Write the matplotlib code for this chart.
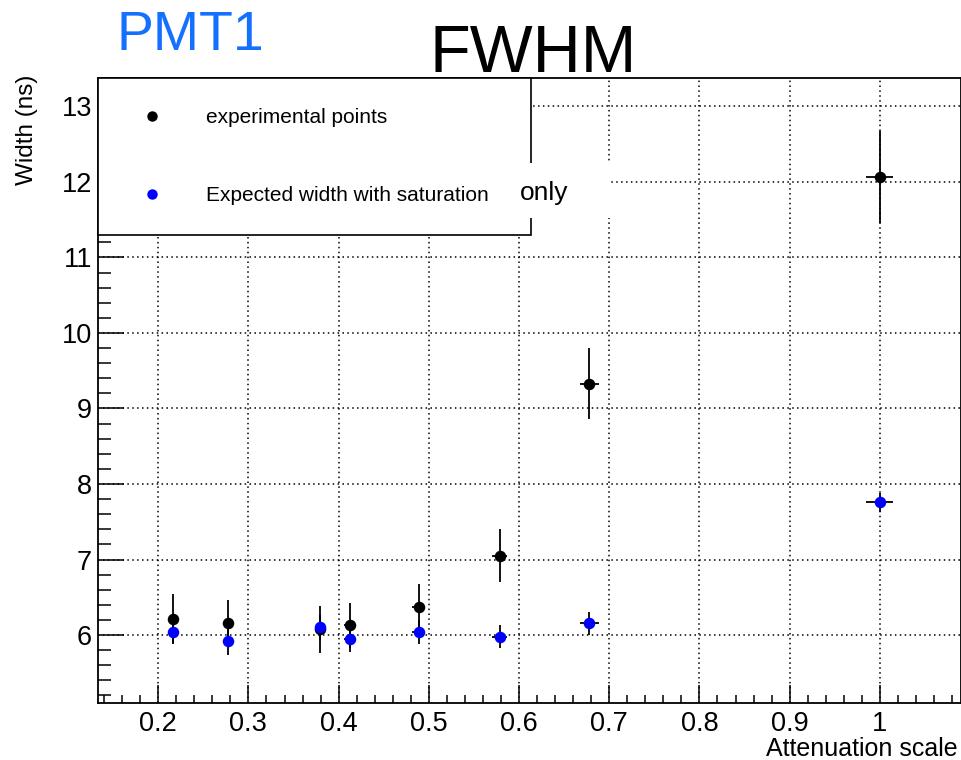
import matplotlib
matplotlib.use("Agg")
import matplotlib.pyplot as plt
from matplotlib.lines import Line2D
from matplotlib.patches import Rectangle
from matplotlib.ticker import MultipleLocator, FormatStrFormatter

plt.rcParams["font.family"] = ["Liberation Sans", "DejaVu Sans"]

# attenuation scale of each measurement
atten = [0.216, 0.2775, 0.379, 0.4123, 0.4887, 0.5785, 0.678, 1.0]
atten_err = [0.0032, 0.0042, 0.0057, 0.0062, 0.0073, 0.0087, 0.0102, 0.015]

# measured FWHM (ns)
width_exp = [6.21, 6.155, 6.075, 6.13, 6.37, 7.05, 9.33, 12.07]
width_exp_err = [0.33, 0.305, 0.31, 0.30, 0.30, 0.35, 0.465, 0.61]

# expected FWHM with saturation (ns)
width_sat = [6.04, 5.92, 6.10, 5.95, 6.04, 5.98, 6.155, 7.76]
width_sat_err = [0.15, 0.18, 0.17, 0.17, 0.155, 0.155, 0.155, 0.125]

W, H = 962, 760
fig = plt.figure(figsize=(W / 100, H / 100), dpi=100)
ax = fig.add_axes([97.7 / W, 1 - 703 / H, (961 - 97.7) / W, (703 - 77.7) / H])

ebar = dict(fmt="o", ms=8.3, ecolor="black", elinewidth=1.3, capsize=4,
            capthick=1.3, mew=0)
ax.errorbar(atten, width_exp, yerr=width_exp_err, xerr=atten_err,
            color="black", zorder=3, **ebar)
ax.errorbar(atten, width_sat, yerr=width_sat_err, xerr=atten_err,
            color="#0000ff", zorder=4, **ebar)

ax.set_xlim(0.1329, 1.09)
ax.set_ylim(5.10, 13.38)
ax.xaxis.set_major_locator(MultipleLocator(0.1))
ax.xaxis.set_minor_locator(MultipleLocator(0.02))
ax.yaxis.set_major_locator(MultipleLocator(1))
ax.yaxis.set_minor_locator(MultipleLocator(0.2))
ax.xaxis.set_major_formatter(FormatStrFormatter("%g"))
ax.yaxis.set_major_formatter(FormatStrFormatter("%g"))

ax.tick_params(which="both", direction="in", top=False, right=False,
               labelsize=19.5, width=1.1)
ax.tick_params(axis="x", which="major", length=13, pad=6)
ax.tick_params(axis="x", which="minor", length=6)
ax.tick_params(axis="y", which="major", length=19, pad=4)
ax.tick_params(axis="y", which="minor", length=9)
for sp in ax.spines.values():
    sp.set_linewidth(1.3)

ax.grid(True, which="major", color="black", lw=1.1, ls=(0, (1, 2.2)))
ax.set_axisbelow(True)

handles = [
    Line2D([], [], ls="none", marker="o", ms=7.5, mew=0, color="black"),
    Line2D([], [], ls="none", marker="o", ms=7.5, mew=0, color="#0000ff"),
]
leg = ax.legend(handles, ["experimental points", "Expected width with saturation"],
                loc="upper left", bbox_to_anchor=(0, 0, 0.5023, 1), mode="expand",
                borderaxespad=0, fontsize=15, borderpad=1.45, labelspacing=2.84,
                handlelength=2.3, handletextpad=1.45, fancybox=False,
                framealpha=1, edgecolor="black")
leg.get_frame().set_linewidth(1.2)
leg.set_zorder(5)

# second (borderless) legend peeking out behind the first one
ax.add_patch(Rectangle((0.471, 0.7756), 0.124, 0.088, transform=ax.transAxes,
                       facecolor="white", edgecolor="none", zorder=6, clip_on=False))
ax.text(0.4886, 0.8156, "only", transform=ax.transAxes, fontsize=19,
        ha="left", va="center", zorder=7)

fig.text(533 / W, 1 - 72 / H, "FWHM", fontsize=48, ha="center", va="baseline")
fig.text(117 / W, 1 - 50 / H, "PMT1", fontsize=40, color="#1670ff",
         ha="left", va="baseline")
fig.text(27 / W, 1 - 75 / H, "Width (ns)", fontsize=17.5, rotation=90,
         ha="center", va="top")
fig.text(958 / W, 1 - 756 / H, "Attenuation scale", fontsize=18,
         ha="right", va="baseline")

fig.savefig("out.png", dpi=100)
